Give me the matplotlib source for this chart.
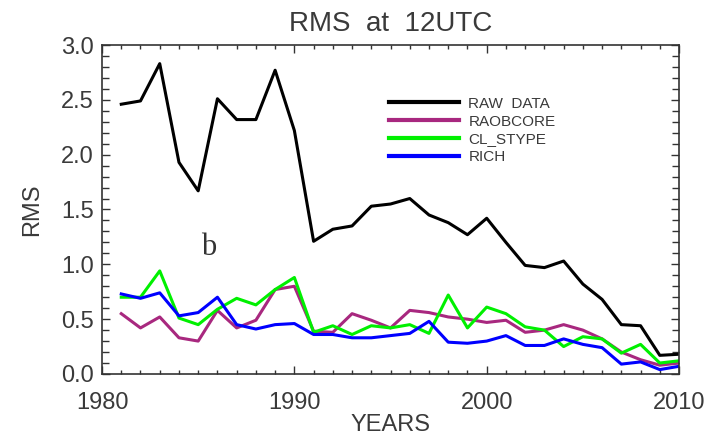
import matplotlib.pyplot as plt
from matplotlib.ticker import MultipleLocator

# yearly RMS at 12 UTC
years = list(range(1981, 2011))
raw_data = [2.46, 2.49, 2.83, 1.93, 1.67, 2.51, 2.32, 2.32, 2.77, 2.22,
            1.21, 1.32, 1.35, 1.53, 1.55, 1.60, 1.45, 1.38, 1.27, 1.42,
            1.20, 0.99, 0.97, 1.03, 0.82, 0.68, 0.45, 0.44, 0.17, 0.18]
raobcore = [0.55, 0.42, 0.52, 0.33, 0.30, 0.58, 0.42, 0.49, 0.77, 0.80,
            0.39, 0.38, 0.55, 0.49, 0.42, 0.58, 0.56, 0.52, 0.50, 0.47,
            0.49, 0.38, 0.40, 0.45, 0.40, 0.32, 0.20, 0.13, 0.08, 0.10]
cl_stype = [0.70, 0.70, 0.94, 0.51, 0.45, 0.59, 0.69, 0.63, 0.77, 0.88,
            0.38, 0.44, 0.36, 0.44, 0.42, 0.45, 0.37, 0.72, 0.42, 0.61,
            0.55, 0.43, 0.40, 0.25, 0.34, 0.32, 0.19, 0.27, 0.10, 0.12]
rich = [0.73, 0.69, 0.74, 0.53, 0.56, 0.70, 0.45, 0.41, 0.45, 0.46,
        0.36, 0.36, 0.33, 0.33, 0.35, 0.37, 0.48, 0.29, 0.28, 0.30,
        0.35, 0.26, 0.26, 0.32, 0.27, 0.24, 0.09, 0.11, 0.04, 0.07]

series = [('RAW  DATA', raw_data, 'black'),
          ('RAOBCORE', raobcore, '#a8287f'),
          ('CL_STYPE', cl_stype, '#00f000'),
          ('RICH', rich, '#0000ff')]

plt.rcParams['font.family'] = ['Liberation Sans', 'DejaVu Sans']
txt = '#3a3a3a'
fig = plt.figure(figsize=(7.15, 4.43), dpi=100)
ax = fig.add_axes([0.1427, 0.1558, 0.807, 0.7426])

for name, vals, col in series:
    ax.plot(years, vals, color=col, lw=2.2, label=name)

ax.set_xlim(1980, 2010)
ax.set_ylim(0, 3.0)
ax.xaxis.set_major_locator(MultipleLocator(10))
ax.xaxis.set_minor_locator(MultipleLocator(1))
ax.yaxis.set_major_locator(MultipleLocator(0.5))
ax.yaxis.set_minor_locator(MultipleLocator(0.1))
ax.yaxis.set_major_formatter(plt.FormatStrFormatter('%.1f'))
ax.tick_params(which='both', direction='in', top=True, right=True,
               colors='#333333', labelcolor=txt, labelsize=17, width=1)
ax.tick_params(axis='x', which='major', length=5.5, pad=13)
ax.tick_params(axis='x', which='minor', length=3)
ax.tick_params(axis='y', which='major', length=6, pad=6)
ax.tick_params(axis='y', which='minor', length=5)
for sp in ax.spines.values():
    sp.set_color('#333333')
    sp.set_linewidth(1.2)

# keep the end labels of the y axis inside the frame
fig.canvas.draw()
ylabels = ax.get_yticklabels()
ylabels[0].set_va('bottom')
ylabels[-1].set_va('top')

ax.set_title('RMS  at  12UTC', fontsize=20, color=txt, pad=10)
ax.set_xlabel('YEARS', fontsize=17, color=txt, labelpad=0)
ax.set_ylabel('RMS', fontsize=17, color=txt, labelpad=13)

ax.text(1985.56, 1.15, 'b', fontsize=22, family='Liberation Serif',
        color='#333333', ha='center', va='center')

leg = ax.legend(loc='upper left', bbox_to_anchor=(0.484, 0.866), frameon=False,
                fontsize=11, handlelength=4.6, handletextpad=0.6,
                labelspacing=0.25, borderpad=0, labelcolor=txt)
for ln in leg.get_lines():
    ln.set_linewidth(3)

fig.savefig('out.png', dpi=100)
